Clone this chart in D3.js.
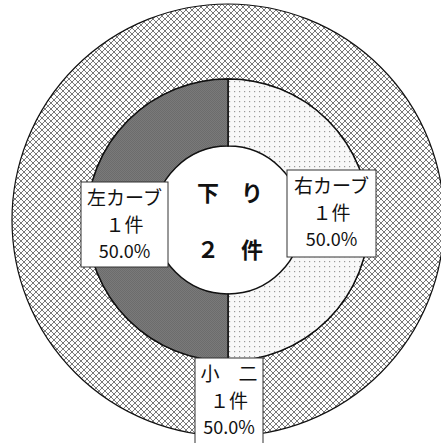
<!DOCTYPE html>
<html>
<head>
<meta charset="utf-8">
<script src="https://cdn.jsdelivr.net/npm/d3@7"></script>
<style>
  body { margin: 0; background: #fff; }
  text { font-family: "Noto Sans CJK JP", "Noto Sans", sans-serif; fill: #111; }
</style>
</head>
<body>
<svg id="chart" width="441" height="443"></svg>
<script>
// ** Data **
const outerLabels = ["小　二"];
const outerValues = [1];
const outerPercents = ["50.0%"];

const innerLabels = ["右カーブ", "左カーブ"];
const innerValues = [1, 1];
const innerPercents = ["50.0%", "50.0%"];

const centerLines = ["下　り", "２　件"];

// ** Layout **
const cx = 228, cy = 220;
const rOuter = 216, rMid = 141, rHole = 74;

const svg = d3.select("#chart");
const defs = svg.append("defs");

// crosshatch pattern for the outer ring
let hatch = defs.append("pattern").attr("id", "hatch")
  .attr("patternUnits", "userSpaceOnUse").attr("width", 6).attr("height", 6);
hatch.append("rect").attr("width", 6).attr("height", 6).attr("fill", "#fff");
hatch.append("path").attr("d", "M0,0L6,6M6,0L0,6M-3,3L3,9M3,-3L9,3M-3,3L3,-3M3,9L9,3")
  .attr("stroke", "#6a6a6a").attr("stroke-width", 0.9);

// dots pattern for the right slice
let dots = defs.append("pattern").attr("id", "dots")
  .attr("patternUnits", "userSpaceOnUse").attr("width", 5).attr("height", 5);
dots.append("rect").attr("width", 5).attr("height", 5).attr("fill", "#f8f8f8");
dots.append("rect").attr("x", 1).attr("y", 1).attr("width", 1.2).attr("height", 1.2).attr("fill", "#999");

// fine checker for the dark slice
let dark = defs.append("pattern").attr("id", "dark")
  .attr("patternUnits", "userSpaceOnUse").attr("width", 2).attr("height", 2);
dark.append("rect").attr("width", 2).attr("height", 2).attr("fill", "#7a7a7a");
dark.append("rect").attr("width", 1).attr("height", 1).attr("fill", "#6c6c6c");
dark.append("rect").attr("x", 1).attr("y", 1).attr("width", 1).attr("height", 1).attr("fill", "#6c6c6c");

const g = svg.append("g").attr("transform", `translate(${cx},${cy})`);

const pie = d3.pie().sort(null);

// outer ring
const outerArc = d3.arc().innerRadius(rMid).outerRadius(rOuter);
g.selectAll("path.outer")
  .data(pie(outerValues))
  .join("path")
  .attr("class", "outer")
  .attr("d", outerArc)
  .attr("fill", "url(#hatch)")
  .attr("stroke", "#111")
  .attr("stroke-width", 1.2);

// inner ring
const innerFills = ["url(#dots)", "url(#dark)"];
const innerArc = d3.arc().innerRadius(rHole).outerRadius(rMid);
const innerData = pie(innerValues);
g.selectAll("path.inner")
  .data(innerData)
  .join("path")
  .attr("class", "inner")
  .attr("d", innerArc)
  .attr("fill", (d, i) => innerFills[i])
  .attr("stroke", "#111")
  .attr("stroke-width", 1.5);

// center text
const centerText = g.append("text")
  .attr("text-anchor", "middle")
  .style("font-size", "22px")
  .style("font-weight", "bold");
centerLines.forEach(function(line, i) {
  centerText.append("tspan")
    .attr("x", 2).attr("y", -19 + i * 57)
    .text(line);
});

// label boxes
function drawLabel(x, y, w, h, lines) {
  let lg = svg.append("g").attr("transform", `translate(${x},${y})`);
  lg.append("rect")
    .attr("width", w).attr("height", h)
    .attr("fill", "#fff")
    .attr("stroke", "#333")
    .attr("stroke-width", 1);
  lines.forEach(function(line, i) {
    lg.append("text")
      .attr("x", w / 2).attr("y", 23 + i * 26.5)
      .attr("text-anchor", "middle")
      .style("font-size", i == 2 ? "18px" : "19px")
      .text(line);
  });
}

// right (右カーブ), left (左カーブ), bottom (小二)
drawLabel(287, 170, 89, 87, [innerLabels[0], "１件", innerPercents[0]]);
drawLabel(81, 182, 87, 85, [innerLabels[1], "１件", innerPercents[1]]);
drawLabel(195, 358, 68, 90, [outerLabels[0], "１件", outerPercents[0]]);
</script>
</body>
</html>
